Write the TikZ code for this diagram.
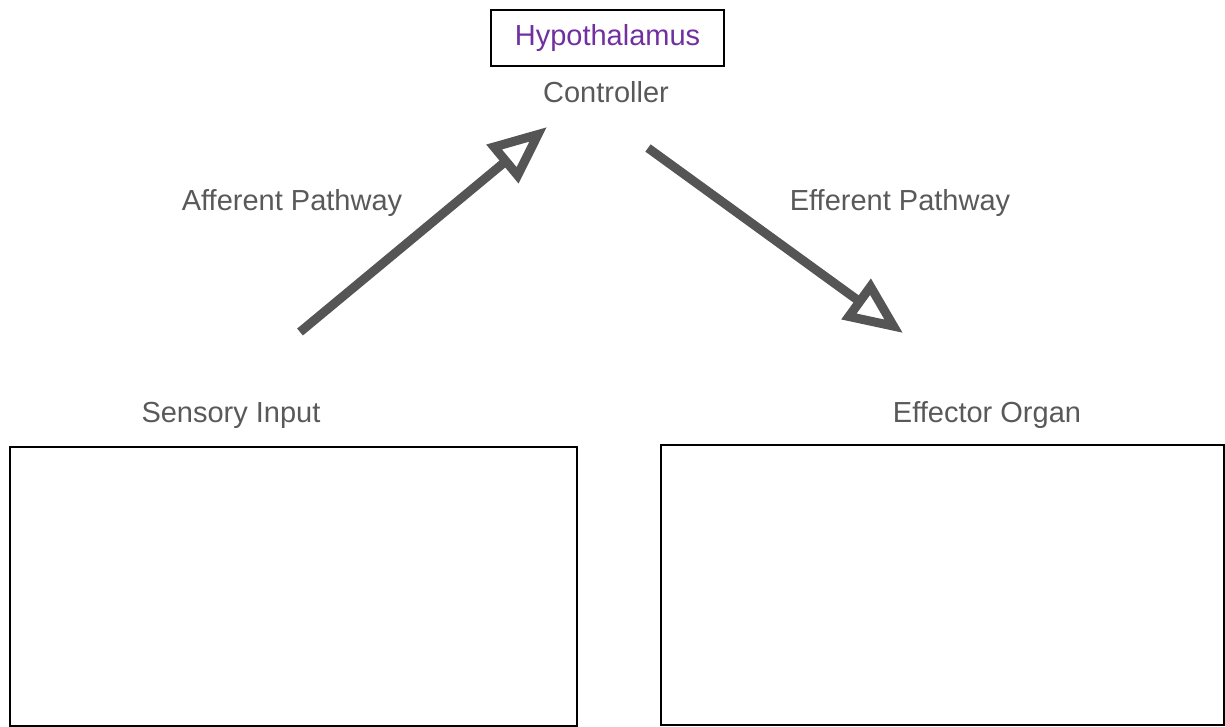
\documentclass[tikz,border=0pt]{standalone}
\usepackage{fontspec}
\setmainfont{Liberation Sans}
\usepackage{tikz}
\usetikzlibrary{arrows.meta,
                positioning}
\definecolor{txtgray}{RGB}{89,89,89}
\definecolor{arrgray}{RGB}{85,85,85}
\definecolor{hypopurple}{RGB}{112,48,160}

\begin{document}
\begin{tikzpicture}[x=1pt,y=-1pt
                    ]
                % define styles
\tikzset{label-text/.style={text=txtgray,
                       font=\fontsize{29}{35}\selectfont,
                       inner sep=0,
                       },
         organ-box/.style={draw=black,
                       line width=2pt,
                       fill=white,
                       anchor=north west,
                       inner sep=0,
                       },
         pathway/.style={draw=arrgray,
                       line width=9pt,
                       -{Triangle[open,length=58pt,width=48pt]},
                       }
}

% frame
\useasboundingbox (0,0) rectangle (1225,726);

% controller
\node[draw=black,line width=2pt,minimum width=233pt,minimum height=56pt,
      inner sep=0,text=hypopurple,font=\fontsize{29}{35}\selectfont]
      (hypo) at (607.5,38) {\raisebox{-2pt}{Hypothalamus}};
\node[label-text] (ctrl) at (606,92) {Controller};

% boxes
\node[organ-box,minimum width=567pt,minimum height=279pt] (sensbox) at (9,446) {};
\node[organ-box,minimum width=563pt,minimum height=280pt] (effbox)  at (660,444) {};

% labels
\node[label-text] (sens) at (231,415) {Sensory Input};
\node[label-text] (effo) at (987,415) {Effector Organ};
\node[label-text] (aff)  at (292,203) {Afferent Pathway};
\node[label-text] (eff)  at (900,203) {Efferent Pathway};

% arrow ends
\coordinate (aff-start) at (300,332);
\coordinate (aff-end)   at (547,127);
\coordinate (eff-start) at (648,148);
\coordinate (eff-end)   at (903,333);

\draw [pathway] (aff-start) -- (aff-end);
\draw [pathway] (eff-start) -- (eff-end);

            \end{tikzpicture}
\end{document}
